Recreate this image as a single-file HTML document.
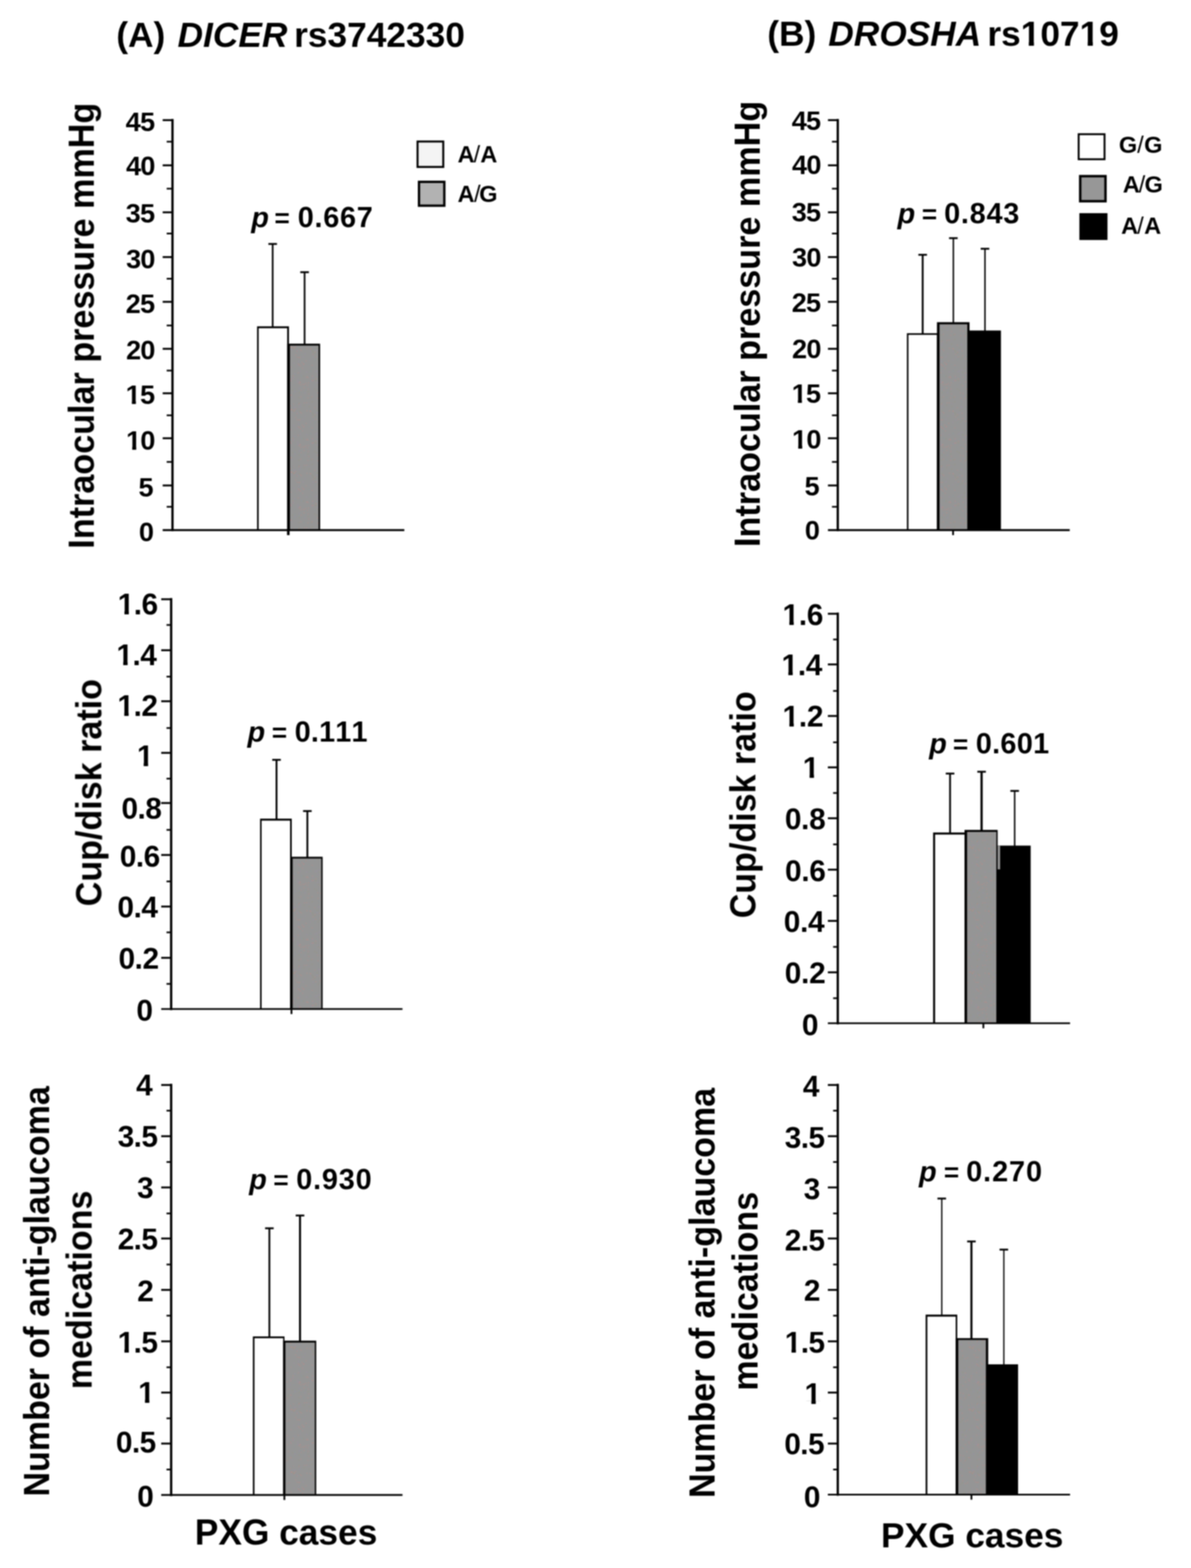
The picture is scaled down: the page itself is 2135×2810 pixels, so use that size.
<!DOCTYPE html>
<html lang="en">
<head>
<meta charset="utf-8">
<title>DICER rs3742330 and DROSHA rs10719 in PXG cases</title>
<style>
html,body{margin:0;padding:0;background:#fff;}
body{width:2135px;height:2810px;overflow:hidden;}
svg{display:block;}
text{white-space:pre;stroke:none;font-kerning:none;}
</style>
</head>
<body>
<svg xmlns="http://www.w3.org/2000/svg" width="2135" height="2810" viewBox="0 0 2135 2810" font-family="Liberation Sans, Arial, Helvetica, sans-serif" font-weight="bold" fill="#000">
<defs><filter id="soft" x="0" y="0" width="100%" height="100%" filterUnits="userSpaceOnUse" color-interpolation-filters="sRGB"><feGaussianBlur stdDeviation="0.8"/></filter><pattern id="dots" width="64" height="112" patternUnits="userSpaceOnUse"><rect width="64" height="112" fill="#959595"/><rect x="57.5" y="110.5" width="1.3" height="1.3" fill="#9c8cab"/><rect x="59.5" y="57.5" width="1.3" height="1.3" fill="#9c8cab"/><rect x="24" y="23.5" width="1.3" height="1.3" fill="#9c8cab"/><rect x="60.5" y="80.5" width="1.3" height="1.3" fill="#97977a"/><rect x="23.5" y="12" width="1.3" height="1.3" fill="#9c8cab"/><rect x="38.5" y="18" width="1.3" height="1.3" fill="#bd8a86"/><rect x="5" y="76" width="1.3" height="1.3" fill="#8a999d"/><rect x="57.5" y="83.5" width="1.3" height="1.3" fill="#97977a"/><rect x="20" y="79.5" width="1.3" height="1.3" fill="#bd8a86"/><rect x="8" y="7.5" width="1.3" height="1.3" fill="#bd8a86"/><rect x="24" y="30.5" width="1.3" height="1.3" fill="#97977a"/><rect x="3.5" y="99.5" width="1.3" height="1.3" fill="#9c8cab"/><rect x="41.5" y="56" width="1.3" height="1.3" fill="#97977a"/><rect x="25" y="66" width="1.3" height="1.3" fill="#8a999d"/><rect x="37.5" y="63.5" width="1.3" height="1.3" fill="#bd8a86"/><rect x="10.5" y="58.5" width="1.3" height="1.3" fill="#8a999d"/><rect x="52" y="70.5" width="1.3" height="1.3" fill="#bd8a86"/><rect x="32.5" y="40" width="1.3" height="1.3" fill="#8a999d"/><rect x="36.5" y="3.5" width="1.3" height="1.3" fill="#bd8a86"/><rect x="13.5" y="51" width="1.3" height="1.3" fill="#bd8a86"/><rect x="37" y="49" width="1.3" height="1.3" fill="#bd8a86"/><rect x="2" y="108" width="1.3" height="1.3" fill="#bd8a86"/><rect x="27" y="26.5" width="1.3" height="1.3" fill="#bd8a86"/><rect x="60" y="48" width="1.3" height="1.3" fill="#8a999d"/><rect x="53.5" y="9" width="1.3" height="1.3" fill="#97977a"/><rect x="25" y="99.5" width="1.3" height="1.3" fill="#8a999d"/><rect x="43" y="11" width="1.3" height="1.3" fill="#8a999d"/><rect x="42.5" y="1.5" width="1.3" height="1.3" fill="#8a999d"/><rect x="15" y="17" width="1.3" height="1.3" fill="#8a999d"/><rect x="12.5" y="1" width="1.3" height="1.3" fill="#bd8a86"/><rect x="59.5" y="102" width="1.3" height="1.3" fill="#9c8cab"/><rect x="22.5" y="87" width="1.3" height="1.3" fill="#9c8cab"/><rect x="24" y="57" width="1.3" height="1.3" fill="#9c8cab"/><rect x="24" y="93.5" width="1.3" height="1.3" fill="#bd8a86"/><rect x="53.5" y="82" width="1.3" height="1.3" fill="#8a999d"/><rect x="14.5" y="50.5" width="1.3" height="1.3" fill="#8a999d"/><rect x="27" y="0" width="1.3" height="1.3" fill="#8a999d"/><rect x="38.5" y="2.5" width="1.3" height="1.3" fill="#bd8a86"/><rect x="23.5" y="50" width="1.3" height="1.3" fill="#97977a"/><rect x="12.5" y="5" width="1.3" height="1.3" fill="#bd8a86"/><rect x="27" y="56.5" width="1.3" height="1.3" fill="#8a999d"/><rect x="1" y="98.5" width="1.3" height="1.3" fill="#97977a"/><rect x="42" y="106" width="1.3" height="1.3" fill="#8a999d"/><rect x="49" y="9" width="1.3" height="1.3" fill="#bd8a86"/><rect x="11.5" y="26.5" width="1.3" height="1.3" fill="#97977a"/><rect x="31" y="1.5" width="1.3" height="1.3" fill="#97977a"/><rect x="47" y="47.5" width="1.3" height="1.3" fill="#97977a"/><rect x="58" y="16" width="1.3" height="1.3" fill="#97977a"/><rect x="61.5" y="106.5" width="1.3" height="1.3" fill="#97977a"/><rect x="17" y="110.5" width="1.3" height="1.3" fill="#8a999d"/><rect x="23" y="80" width="1.3" height="1.3" fill="#bd8a86"/><rect x="39.5" y="29" width="1.3" height="1.3" fill="#97977a"/><rect x="31.5" y="92.5" width="1.3" height="1.3" fill="#bd8a86"/><rect x="20" y="94.5" width="1.3" height="1.3" fill="#9c8cab"/><rect x="25" y="87.5" width="1.3" height="1.3" fill="#8a999d"/><rect x="61.5" y="77" width="1.3" height="1.3" fill="#bd8a86"/><rect x="53.5" y="6" width="1.3" height="1.3" fill="#bd8a86"/><rect x="13.5" y="4.5" width="1.3" height="1.3" fill="#9c8cab"/><rect x="32.5" y="30.5" width="1.3" height="1.3" fill="#8a999d"/><rect x="32.5" y="53.5" width="1.3" height="1.3" fill="#97977a"/><rect x="62.5" y="37.5" width="1.3" height="1.3" fill="#9c8cab"/><rect x="22" y="92" width="1.3" height="1.3" fill="#bd8a86"/><rect x="16" y="29" width="1.3" height="1.3" fill="#9c8cab"/><rect x="9" y="35.5" width="1.3" height="1.3" fill="#bd8a86"/><rect x="26" y="95.5" width="1.3" height="1.3" fill="#bd8a86"/><rect x="8.5" y="34" width="1.3" height="1.3" fill="#8a999d"/><rect x="57" y="31.5" width="1.3" height="1.3" fill="#bd8a86"/><rect x="5.5" y="22.5" width="1.3" height="1.3" fill="#8a999d"/><rect x="47" y="67.5" width="1.3" height="1.3" fill="#97977a"/><rect x="16.5" y="11.5" width="1.3" height="1.3" fill="#8a999d"/><rect x="17.5" y="57.5" width="1.3" height="1.3" fill="#8a999d"/><rect x="17.5" y="75.5" width="1.3" height="1.3" fill="#bd8a86"/><rect x="2" y="60.5" width="1.3" height="1.3" fill="#8a999d"/><rect x="39.5" y="4" width="1.3" height="1.3" fill="#bd8a86"/><rect x="9.5" y="61.5" width="1.3" height="1.3" fill="#bd8a86"/><rect x="39.5" y="40.5" width="1.3" height="1.3" fill="#bd8a86"/><rect x="9" y="9.5" width="1.3" height="1.3" fill="#9c8cab"/><rect x="47" y="94" width="1.3" height="1.3" fill="#bd8a86"/><rect x="16.5" y="101.5" width="1.3" height="1.3" fill="#8a999d"/><rect x="45" y="10.5" width="1.3" height="1.3" fill="#9c8cab"/><rect x="9.5" y="111.5" width="1.3" height="1.3" fill="#8a999d"/><rect x="3.5" y="110.5" width="1.3" height="1.3" fill="#9c8cab"/><rect x="1.5" y="79.5" width="1.3" height="1.3" fill="#8a999d"/><rect x="48.5" y="74.5" width="1.3" height="1.3" fill="#bd8a86"/><rect x="9" y="10" width="1.3" height="1.3" fill="#bd8a86"/><rect x="14.5" y="32.5" width="1.3" height="1.3" fill="#8a999d"/><rect x="42" y="49.5" width="1.3" height="1.3" fill="#97977a"/><rect x="58.5" y="56" width="1.3" height="1.3" fill="#9c8cab"/><rect x="10.5" y="66" width="1.3" height="1.3" fill="#9c8cab"/><rect x="3.5" y="39.5" width="1.3" height="1.3" fill="#97977a"/><rect x="11" y="61.5" width="1.3" height="1.3" fill="#bd8a86"/><rect x="29" y="89" width="1.3" height="1.3" fill="#bd8a86"/><rect x="63.5" y="99.5" width="1.3" height="1.3" fill="#97977a"/><rect x="62" y="32.5" width="1.3" height="1.3" fill="#bd8a86"/><rect x="47" y="38.5" width="1.3" height="1.3" fill="#bd8a86"/><rect x="25.5" y="66" width="1.3" height="1.3" fill="#bd8a86"/><rect x="43.5" y="84" width="1.3" height="1.3" fill="#9c8cab"/><rect x="63.5" y="30.5" width="1.3" height="1.3" fill="#8a999d"/><rect x="51.5" y="85" width="1.3" height="1.3" fill="#8a999d"/><rect x="25" y="81" width="1.3" height="1.3" fill="#8a999d"/><rect x="25.5" y="27" width="1.3" height="1.3" fill="#8a999d"/><rect x="28" y="74.5" width="1.3" height="1.3" fill="#8a999d"/><rect x="26.5" y="17" width="1.3" height="1.3" fill="#bd8a86"/><rect x="63.5" y="44.5" width="1.3" height="1.3" fill="#bd8a86"/><rect x="8" y="35" width="1.3" height="1.3" fill="#bd8a86"/><rect x="14" y="57.5" width="1.3" height="1.3" fill="#9c8cab"/><rect x="35" y="27" width="1.3" height="1.3" fill="#8a999d"/><rect x="48.5" y="80" width="1.3" height="1.3" fill="#9c8cab"/><rect x="63" y="86" width="1.3" height="1.3" fill="#8a999d"/><rect x="57.5" y="41" width="1.3" height="1.3" fill="#bd8a86"/><rect x="4" y="35.5" width="1.3" height="1.3" fill="#97977a"/><rect x="5" y="86.5" width="1.3" height="1.3" fill="#8a999d"/><rect x="45" y="39.5" width="1.3" height="1.3" fill="#97977a"/><rect x="2" y="82" width="1.3" height="1.3" fill="#bd8a86"/><rect x="51.5" y="58" width="1.3" height="1.3" fill="#bd8a86"/><rect x="3" y="98" width="1.3" height="1.3" fill="#8a999d"/><rect x="30" y="99.5" width="1.3" height="1.3" fill="#bd8a86"/><rect x="6" y="80.5" width="1.3" height="1.3" fill="#bd8a86"/><rect x="57" y="13.5" width="1.3" height="1.3" fill="#9c8cab"/><rect x="47" y="9.5" width="1.3" height="1.3" fill="#bd8a86"/><rect x="25.5" y="105" width="1.3" height="1.3" fill="#9c8cab"/><rect x="32.5" y="22.5" width="1.3" height="1.3" fill="#bd8a86"/><rect x="60" y="68" width="1.3" height="1.3" fill="#bd8a86"/><rect x="22.5" y="28.5" width="1.3" height="1.3" fill="#8a999d"/><rect x="44" y="69" width="1.3" height="1.3" fill="#9c8cab"/><rect x="20" y="50" width="1.3" height="1.3" fill="#8a999d"/><rect x="11" y="52.5" width="1.3" height="1.3" fill="#8a999d"/><rect x="16.5" y="57.5" width="1.3" height="1.3" fill="#9c8cab"/><rect x="25" y="80" width="1.3" height="1.3" fill="#bd8a86"/><rect x="48" y="70" width="1.3" height="1.3" fill="#97977a"/><rect x="43.5" y="59" width="1.3" height="1.3" fill="#8a999d"/><rect x="26" y="12.5" width="1.3" height="1.3" fill="#bd8a86"/><rect x="27" y="31" width="1.3" height="1.3" fill="#8a999d"/><rect x="11" y="39.5" width="1.3" height="1.3" fill="#9c8cab"/><rect x="41" y="33.5" width="1.3" height="1.3" fill="#bd8a86"/><rect x="44.5" y="64.5" width="1.3" height="1.3" fill="#bd8a86"/><rect x="4.5" y="56" width="1.3" height="1.3" fill="#8a999d"/><rect x="53.5" y="98" width="1.3" height="1.3" fill="#8a999d"/><rect x="62" y="3.5" width="1.3" height="1.3" fill="#bd8a86"/><rect x="8" y="54.5" width="1.3" height="1.3" fill="#bd8a86"/><rect x="22" y="68" width="1.3" height="1.3" fill="#8a999d"/><rect x="17.5" y="60" width="1.3" height="1.3" fill="#bd8a86"/><rect x="56" y="63" width="1.3" height="1.3" fill="#97977a"/><rect x="11" y="97" width="1.3" height="1.3" fill="#8a999d"/><rect x="56" y="67" width="1.3" height="1.3" fill="#9c8cab"/><rect x="37" y="106" width="1.3" height="1.3" fill="#9c8cab"/><rect x="21" y="66.5" width="1.3" height="1.3" fill="#9c8cab"/><rect x="32.5" y="39.5" width="1.3" height="1.3" fill="#8a999d"/><rect x="26.5" y="38.5" width="1.3" height="1.3" fill="#bd8a86"/><rect x="34.5" y="73" width="1.3" height="1.3" fill="#9c8cab"/><rect x="25.5" y="52.5" width="1.3" height="1.3" fill="#9c8cab"/><rect x="14.5" y="64" width="1.3" height="1.3" fill="#bd8a86"/><rect x="48" y="3.5" width="1.3" height="1.3" fill="#9c8cab"/><rect x="5.5" y="66" width="1.3" height="1.3" fill="#8a999d"/><rect x="15.5" y="62.5" width="1.3" height="1.3" fill="#bd8a86"/><rect x="21" y="8" width="1.3" height="1.3" fill="#9c8cab"/><rect x="58.5" y="52.5" width="1.3" height="1.3" fill="#8a999d"/><rect x="34" y="31.5" width="1.3" height="1.3" fill="#9c8cab"/><rect x="63" y="16" width="1.3" height="1.3" fill="#8a999d"/><rect x="55.5" y="104" width="1.3" height="1.3" fill="#9c8cab"/><rect x="40.5" y="13.5" width="1.3" height="1.3" fill="#bd8a86"/><rect x="53.5" y="79" width="1.3" height="1.3" fill="#bd8a86"/><rect x="33" y="16.5" width="1.3" height="1.3" fill="#bd8a86"/><rect x="4.5" y="24.5" width="1.3" height="1.3" fill="#bd8a86"/><rect x="29" y="1.5" width="1.3" height="1.3" fill="#8a999d"/><rect x="41" y="92.5" width="1.3" height="1.3" fill="#8a999d"/><rect x="31" y="79" width="1.3" height="1.3" fill="#9c8cab"/><rect x="13" y="63.5" width="1.3" height="1.3" fill="#97977a"/><rect x="15.5" y="109" width="1.3" height="1.3" fill="#9c8cab"/><rect x="32" y="91.5" width="1.3" height="1.3" fill="#bd8a86"/><rect x="55.5" y="2.5" width="1.3" height="1.3" fill="#8a999d"/><rect x="52.5" y="105.5" width="1.3" height="1.3" fill="#9c8cab"/><rect x="20" y="68.5" width="1.3" height="1.3" fill="#bd8a86"/><rect x="27.5" y="67.5" width="1.3" height="1.3" fill="#bd8a86"/><rect x="17" y="29.5" width="1.3" height="1.3" fill="#8a999d"/><rect x="23" y="40" width="1.3" height="1.3" fill="#97977a"/><rect x="40" y="24.5" width="1.3" height="1.3" fill="#bd8a86"/><rect x="24.5" y="12" width="1.3" height="1.3" fill="#bd8a86"/><rect x="30.5" y="16.5" width="1.3" height="1.3" fill="#bd8a86"/><rect x="33" y="49.5" width="1.3" height="1.3" fill="#bd8a86"/><rect x="55.5" y="106.5" width="1.3" height="1.3" fill="#8a999d"/><rect x="16" y="25.5" width="1.3" height="1.3" fill="#8a999d"/><rect x="2" y="12" width="1.3" height="1.3" fill="#bd8a86"/><rect x="45.5" y="105" width="1.3" height="1.3" fill="#8a999d"/><rect x="14.5" y="90" width="1.3" height="1.3" fill="#9c8cab"/><rect x="43.5" y="64" width="1.3" height="1.3" fill="#bd8a86"/><rect x="9" y="61.5" width="1.3" height="1.3" fill="#bd8a86"/><rect x="3" y="4.5" width="1.3" height="1.3" fill="#9c8cab"/><rect x="61.5" y="18.5" width="1.3" height="1.3" fill="#bd8a86"/><rect x="23.5" y="14.5" width="1.3" height="1.3" fill="#bd8a86"/><rect x="22" y="107.5" width="1.3" height="1.3" fill="#bd8a86"/><rect x="36" y="86" width="1.3" height="1.3" fill="#bd8a86"/><rect x="7.5" y="17" width="1.3" height="1.3" fill="#9c8cab"/><rect x="9.5" y="97.5" width="1.3" height="1.3" fill="#bd8a86"/><rect x="41.5" y="50" width="1.3" height="1.3" fill="#9c8cab"/><rect x="54.5" y="65.5" width="1.3" height="1.3" fill="#8a999d"/><rect x="55" y="26.5" width="1.3" height="1.3" fill="#97977a"/><rect x="47.5" y="1.5" width="1.3" height="1.3" fill="#bd8a86"/><rect x="25.5" y="23" width="1.3" height="1.3" fill="#8a999d"/><rect x="58" y="46" width="1.3" height="1.3" fill="#8a999d"/><rect x="51.5" y="24.5" width="1.3" height="1.3" fill="#97977a"/><rect x="21" y="12" width="1.3" height="1.3" fill="#9c8cab"/><rect x="1.5" y="41" width="1.3" height="1.3" fill="#bd8a86"/><rect x="51.5" y="72.5" width="1.3" height="1.3" fill="#97977a"/><rect x="24" y="64.5" width="1.3" height="1.3" fill="#97977a"/><rect x="43.5" y="103" width="1.3" height="1.3" fill="#8a999d"/><rect x="35.5" y="14.5" width="1.3" height="1.3" fill="#bd8a86"/><rect x="51.5" y="17" width="1.3" height="1.3" fill="#8a999d"/><rect x="47" y="98" width="1.3" height="1.3" fill="#8a999d"/><rect x="23" y="51.5" width="1.3" height="1.3" fill="#bd8a86"/></pattern></defs>
<rect width="2135" height="2810" fill="#fff"/>
<g filter="url(#soft)">
<text x="208.54" y="84.4" font-size="63.29">(A)</text>
<text x="318.29" y="84.4" font-size="63.29" font-style="italic">DICER</text>
<text x="527.19" y="84.4" font-size="63.29">rs3742330</text>
<text x="1375.44" y="81.7" font-size="63.29">(B)</text>
<text x="1484.79" y="81.7" font-size="63.29" font-style="italic">DROSHA</text>
<text x="1769.89" y="81.7" font-size="63.29">rs10719</text>
<path d="M1832.25 74.39H1844.21V82.7H1832.25ZM1853.45 74.39H1864.4V82.7H1853.45Z" fill="#fff"/>
<path d="M1937.85 74.39H1949.82V82.7H1937.85ZM1959.05 74.39H1970V82.7H1959.05Z" fill="#fff"/>
<g id="A1" stroke="#000">
<rect x="460.8" y="584.8" width="57.2" height="365.2" fill="#000" stroke="none"/>
<rect x="463.7" y="588.2" width="51.1" height="361.8" fill="#fff" stroke="none"/>
<rect x="514.8" y="615.9" width="59" height="334.1" fill="#000" stroke="none"/>
<rect x="519.8" y="619.3" width="51.2" height="330.7" fill="url(#dots)" stroke="none"/>
<line x1="488.8" y1="437.2" x2="488.8" y2="585.8" stroke-width="3"/>
<line x1="481.1" y1="437.2" x2="496.5" y2="437.2" stroke-width="3.3"/>
<line x1="546" y1="487.8" x2="546" y2="616.9" stroke-width="3"/>
<line x1="538.3" y1="487.8" x2="553.7" y2="487.8" stroke-width="3.3"/>
<line x1="309.2" y1="213.25" x2="309.2" y2="952.05" stroke-width="4.1"/>
<line x1="291.6" y1="950" x2="724.8" y2="950" stroke-width="3.4"/>
<line x1="291.6" y1="215.3" x2="309.2" y2="215.3" stroke-width="3.4"/>
<line x1="291.6" y1="296.3" x2="309.2" y2="296.3" stroke-width="3.4"/>
<line x1="291.6" y1="380.5" x2="309.2" y2="380.5" stroke-width="3.4"/>
<line x1="291.6" y1="460.7" x2="309.2" y2="460.7" stroke-width="3.4"/>
<line x1="291.6" y1="540.9" x2="309.2" y2="540.9" stroke-width="3.4"/>
<line x1="291.6" y1="625.1" x2="309.2" y2="625.1" stroke-width="3.4"/>
<line x1="291.6" y1="704.8" x2="309.2" y2="704.8" stroke-width="3.4"/>
<line x1="291.6" y1="785.4" x2="309.2" y2="785.4" stroke-width="3.4"/>
<line x1="291.6" y1="870" x2="309.2" y2="870" stroke-width="3.4"/>
<line x1="298.8" y1="253.9" x2="309.2" y2="253.9" stroke-width="3"/>
<line x1="298.8" y1="338.1" x2="309.2" y2="338.1" stroke-width="3"/>
<line x1="298.8" y1="418.5" x2="309.2" y2="418.5" stroke-width="3"/>
<line x1="298.8" y1="499.5" x2="309.2" y2="499.5" stroke-width="3"/>
<line x1="298.8" y1="583.3" x2="309.2" y2="583.3" stroke-width="3"/>
<line x1="298.8" y1="664.1" x2="309.2" y2="664.1" stroke-width="3"/>
<line x1="298.8" y1="744.3" x2="309.2" y2="744.3" stroke-width="3"/>
<line x1="298.8" y1="827.8" x2="309.2" y2="827.8" stroke-width="3"/>
<line x1="298.8" y1="908.2" x2="309.2" y2="908.2" stroke-width="3"/>
<line x1="516.8" y1="950" x2="516.8" y2="959" stroke-width="4.6"/>
</g>
<text x="225.33" y="235" font-size="48.6" letter-spacing="-1.4">45</text>
<text x="225.94" y="314.1" font-size="48.6" letter-spacing="-1.4">40</text>
<text x="225.33" y="398.9" font-size="48.6" letter-spacing="-1.4">35</text>
<text x="225.94" y="480.6" font-size="48.6" letter-spacing="-1.4">30</text>
<text x="225.33" y="561" font-size="48.6" letter-spacing="-1.4">25</text>
<text x="225.94" y="643.9" font-size="48.6" letter-spacing="-1.4">20</text>
<text x="225.33" y="724.1" font-size="48.6" letter-spacing="-1.4">15</text>
<path d="M227.28 718.35H236.41V725.1H227.28ZM243.61 718.35H251.97V725.1H243.61Z" fill="#fff"/>
<text x="225.94" y="806.4" font-size="48.6" letter-spacing="-1.4">10</text>
<path d="M227.89 800.65H237.01V807.4H227.89ZM244.22 800.65H252.57V807.4H244.22Z" fill="#fff"/>
<text x="248.36" y="889.9" font-size="48.6">5</text>
<text x="248.97" y="969.7" font-size="48.6">0</text>
<text x="450.46" y="406.6" font-size="51.7" font-style="italic">p</text>
<text x="492" y="406.6" font-size="47">=</text>
<text x="533.83" y="406.6" font-size="51.7" letter-spacing="1.26">0.667</text>
<text transform="translate(168.2 979.2) rotate(-90)" x="-4.13" y="0" font-size="64.3" textLength="799.26" lengthAdjust="spacingAndGlyphs">Intraocular pressure mmHg</text>
<g id="B1" stroke="#000">
<rect x="1625.7" y="597.2" width="56.3" height="352.8" fill="#000" stroke="none"/>
<rect x="1628.5" y="600.1" width="51.1" height="349.9" fill="#fff" stroke="none"/>
<rect x="1679.6" y="577.4" width="58.4" height="372.6" fill="#000" stroke="none"/>
<rect x="1684.2" y="581.2" width="49.8" height="368.8" fill="url(#dots)" stroke="none"/>
<rect x="1736" y="592.3" width="58.3" height="357.7" fill="#000" stroke="none"/>
<line x1="1654" y1="456.6" x2="1654" y2="598.2" stroke-width="3.3"/>
<line x1="1646.3" y1="456.6" x2="1661.7" y2="456.6" stroke-width="3.3"/>
<line x1="1709" y1="426.8" x2="1709" y2="578.4" stroke-width="2.6"/>
<line x1="1701.3" y1="426.8" x2="1716.7" y2="426.8" stroke-width="3.3"/>
<line x1="1765.7" y1="445.8" x2="1765.7" y2="593.3" stroke-width="2.6"/>
<line x1="1758" y1="445.8" x2="1773.4" y2="445.8" stroke-width="3.3"/>
<line x1="1501.8" y1="213.25" x2="1501.8" y2="952.05" stroke-width="4.1"/>
<line x1="1484.2" y1="950" x2="1917.6" y2="950" stroke-width="3.4"/>
<line x1="1484.2" y1="215.3" x2="1501.8" y2="215.3" stroke-width="3.4"/>
<line x1="1484.2" y1="296.3" x2="1501.8" y2="296.3" stroke-width="3.4"/>
<line x1="1484.2" y1="380.5" x2="1501.8" y2="380.5" stroke-width="3.4"/>
<line x1="1484.2" y1="460.7" x2="1501.8" y2="460.7" stroke-width="3.4"/>
<line x1="1484.2" y1="540.9" x2="1501.8" y2="540.9" stroke-width="3.4"/>
<line x1="1484.2" y1="625.1" x2="1501.8" y2="625.1" stroke-width="3.4"/>
<line x1="1484.2" y1="704.8" x2="1501.8" y2="704.8" stroke-width="3.4"/>
<line x1="1484.2" y1="785.4" x2="1501.8" y2="785.4" stroke-width="3.4"/>
<line x1="1484.2" y1="870" x2="1501.8" y2="870" stroke-width="3.4"/>
<line x1="1491.4" y1="253.9" x2="1501.8" y2="253.9" stroke-width="3"/>
<line x1="1491.4" y1="338.1" x2="1501.8" y2="338.1" stroke-width="3"/>
<line x1="1491.4" y1="418.5" x2="1501.8" y2="418.5" stroke-width="3"/>
<line x1="1491.4" y1="499.5" x2="1501.8" y2="499.5" stroke-width="3"/>
<line x1="1491.4" y1="583.3" x2="1501.8" y2="583.3" stroke-width="3"/>
<line x1="1491.4" y1="664.1" x2="1501.8" y2="664.1" stroke-width="3"/>
<line x1="1491.4" y1="744.3" x2="1501.8" y2="744.3" stroke-width="3"/>
<line x1="1491.4" y1="827.8" x2="1501.8" y2="827.8" stroke-width="3"/>
<line x1="1491.4" y1="908.2" x2="1501.8" y2="908.2" stroke-width="3"/>
<line x1="1708.5" y1="950" x2="1708.5" y2="959" stroke-width="3.2"/>
</g>
<text x="1419.23" y="232.7" font-size="48.6" letter-spacing="-1.4">45</text>
<text x="1419.84" y="311.8" font-size="48.6" letter-spacing="-1.4">40</text>
<text x="1419.23" y="396.6" font-size="48.6" letter-spacing="-1.4">35</text>
<text x="1419.84" y="478.3" font-size="48.6" letter-spacing="-1.4">30</text>
<text x="1419.23" y="558.7" font-size="48.6" letter-spacing="-1.4">25</text>
<text x="1419.84" y="641.6" font-size="48.6" letter-spacing="-1.4">20</text>
<text x="1419.23" y="721.8" font-size="48.6" letter-spacing="-1.4">15</text>
<path d="M1421.18 716.05H1430.31V722.8H1421.18ZM1437.51 716.05H1445.87V722.8H1437.51Z" fill="#fff"/>
<text x="1419.84" y="804.1" font-size="48.6" letter-spacing="-1.4">10</text>
<path d="M1421.79 798.35H1430.91V805.1H1421.79ZM1438.12 798.35H1446.47V805.1H1438.12Z" fill="#fff"/>
<text x="1442.26" y="887.6" font-size="48.6">5</text>
<text x="1442.87" y="967.4" font-size="48.6">0</text>
<text x="1608.96" y="399.8" font-size="51.7" font-style="italic">p</text>
<text x="1652.5" y="399.8" font-size="47">=</text>
<text x="1692.43" y="399.8" font-size="51.7" letter-spacing="1.39">0.843</text>
<text transform="translate(1361.5 976.1) rotate(-90)" x="-4.13" y="0" font-size="64.3" textLength="799.56" lengthAdjust="spacingAndGlyphs">Intraocular pressure mmHg</text>
<g id="A2" stroke="#000">
<rect x="466.2" y="1467.1" width="56.8" height="341.2" fill="#000" stroke="none"/>
<rect x="469" y="1470.6" width="51" height="337.7" fill="#fff" stroke="none"/>
<rect x="520" y="1535.4" width="58.4" height="272.9" fill="#000" stroke="none"/>
<rect x="524.6" y="1538.6" width="51.2" height="269.7" fill="url(#dots)" stroke="none"/>
<line x1="495.7" y1="1361.7" x2="495.7" y2="1468.1" stroke-width="3.3"/>
<line x1="488" y1="1361.7" x2="503.4" y2="1361.7" stroke-width="3.3"/>
<line x1="551" y1="1453.5" x2="551" y2="1536.4" stroke-width="3.3"/>
<line x1="543.3" y1="1453.5" x2="558.7" y2="1453.5" stroke-width="3.3"/>
<line x1="306.8" y1="1071.85" x2="306.8" y2="1810.35" stroke-width="4.1"/>
<line x1="289" y1="1808.3" x2="721.5" y2="1808.3" stroke-width="3"/>
<line x1="289" y1="1073.9" x2="306.8" y2="1073.9" stroke-width="3.4"/>
<line x1="289" y1="1165.3" x2="306.8" y2="1165.3" stroke-width="3.4"/>
<line x1="289" y1="1256.7" x2="306.8" y2="1256.7" stroke-width="3.4"/>
<line x1="289" y1="1349.2" x2="306.8" y2="1349.2" stroke-width="3.4"/>
<line x1="289" y1="1439.1" x2="306.8" y2="1439.1" stroke-width="3.4"/>
<line x1="289" y1="1532.2" x2="306.8" y2="1532.2" stroke-width="3.4"/>
<line x1="289" y1="1624.6" x2="306.8" y2="1624.6" stroke-width="3.4"/>
<line x1="289" y1="1716.5" x2="306.8" y2="1716.5" stroke-width="3.4"/>
<line x1="298.5" y1="1120" x2="306.8" y2="1120" stroke-width="3"/>
<line x1="298.5" y1="1212.6" x2="306.8" y2="1212.6" stroke-width="3"/>
<line x1="298.5" y1="1304.7" x2="306.8" y2="1304.7" stroke-width="3"/>
<line x1="298.5" y1="1395.4" x2="306.8" y2="1395.4" stroke-width="3"/>
<line x1="298.5" y1="1487.2" x2="306.8" y2="1487.2" stroke-width="3"/>
<line x1="298.5" y1="1579.6" x2="306.8" y2="1579.6" stroke-width="3"/>
<line x1="298.5" y1="1670.9" x2="306.8" y2="1670.9" stroke-width="3"/>
<line x1="298.5" y1="1763.2" x2="306.8" y2="1763.2" stroke-width="3"/>
<line x1="522.5" y1="1808.3" x2="522.5" y2="1817.3" stroke-width="3.2"/>
</g>
<text x="210.9" y="1100.8" font-size="53.4" letter-spacing="-0.8">1.6</text>
<path d="M213.03 1094.54H223.09V1101.8H213.03ZM230.96 1094.54H240.16V1101.8H230.96Z" fill="#fff"/>
<text x="208.69" y="1191.8" font-size="53.4" letter-spacing="-0.8">1.4</text>
<path d="M210.83 1185.54H220.89V1192.8H210.83ZM228.75 1185.54H237.96V1192.8H228.75Z" fill="#fff"/>
<text x="210.56" y="1283" font-size="53.4" letter-spacing="-0.8">1.2</text>
<path d="M212.7 1276.74H222.75V1284H212.7ZM230.62 1276.74H239.83V1284H230.62Z" fill="#fff"/>
<text x="245.39" y="1373.2" font-size="53.4">1</text>
<path d="M247.52 1366.94H257.58V1374.2H247.52ZM265.45 1366.94H274.65V1374.2H265.45Z" fill="#fff"/>
<text x="217.63" y="1467" font-size="53.4" letter-spacing="-0.8">0.8</text>
<text x="214.7" y="1552.5" font-size="53.4" letter-spacing="-0.8">0.6</text>
<text x="210.59" y="1644" font-size="53.4" letter-spacing="-0.8">0.4</text>
<text x="212.46" y="1736.4" font-size="53.4" letter-spacing="-0.8">0.2</text>
<text x="244.6" y="1828.8" font-size="53.4">0</text>
<text x="443.76" y="1329.3" font-size="51.7" font-style="italic">p</text>
<text x="487.3" y="1329.3" font-size="47">=</text>
<text x="528.13" y="1329.3" font-size="51.7" letter-spacing="0.34">0.111</text>
<text transform="translate(181.5 1621.7) rotate(-90)" x="-2.44" y="0" font-size="64.3" textLength="407.19" lengthAdjust="spacingAndGlyphs">Cup/disk ratio</text>
<g id="B2" stroke="#000">
<rect x="1672.7" y="1491.9" width="59.3" height="341.9" fill="#000" stroke="none"/>
<rect x="1676.3" y="1495.6" width="52.7" height="338.2" fill="#fff" stroke="none"/>
<rect x="1729" y="1487.3" width="59.4" height="346.5" fill="#000" stroke="none"/>
<rect x="1733.6" y="1490.9" width="52.4" height="342.9" fill="url(#dots)" stroke="none"/>
<rect x="1787.4" y="1515.4" width="60.2" height="318.4" fill="#000" stroke="none"/>
<line x1="1703.1" y1="1386.3" x2="1703.1" y2="1492.9" stroke-width="3.2"/>
<line x1="1695.4" y1="1386.3" x2="1710.8" y2="1386.3" stroke-width="3.3"/>
<line x1="1759.6" y1="1383" x2="1759.6" y2="1488.3" stroke-width="4"/>
<line x1="1751.9" y1="1383" x2="1767.3" y2="1383" stroke-width="3.3"/>
<line x1="1818.9" y1="1417.4" x2="1818.9" y2="1516.4" stroke-width="2.6"/>
<line x1="1811.2" y1="1417.4" x2="1826.6" y2="1417.4" stroke-width="3.3"/>
<rect x="1788.4" y="1515.4" width="4.4" height="42.6" fill="#969696" stroke="none"/>
<line x1="1501.8" y1="1097.85" x2="1501.8" y2="1835.85" stroke-width="4.1"/>
<line x1="1484" y1="1833.8" x2="1918.2" y2="1833.8" stroke-width="3"/>
<line x1="1484" y1="1099.9" x2="1501.8" y2="1099.9" stroke-width="3.4"/>
<line x1="1484" y1="1190.7" x2="1501.8" y2="1190.7" stroke-width="3.4"/>
<line x1="1484" y1="1283.1" x2="1501.8" y2="1283.1" stroke-width="3.4"/>
<line x1="1484" y1="1375.2" x2="1501.8" y2="1375.2" stroke-width="3.4"/>
<line x1="1484" y1="1466.4" x2="1501.8" y2="1466.4" stroke-width="3.4"/>
<line x1="1484" y1="1558.5" x2="1501.8" y2="1558.5" stroke-width="3.4"/>
<line x1="1484" y1="1650.3" x2="1501.8" y2="1650.3" stroke-width="3.4"/>
<line x1="1484" y1="1742.5" x2="1501.8" y2="1742.5" stroke-width="3.4"/>
<line x1="1493.5" y1="1146" x2="1501.8" y2="1146" stroke-width="3"/>
<line x1="1493.5" y1="1238.2" x2="1501.8" y2="1238.2" stroke-width="3"/>
<line x1="1493.5" y1="1330.3" x2="1501.8" y2="1330.3" stroke-width="3"/>
<line x1="1493.5" y1="1421.1" x2="1501.8" y2="1421.1" stroke-width="3"/>
<line x1="1493.5" y1="1513.2" x2="1501.8" y2="1513.2" stroke-width="3"/>
<line x1="1493.5" y1="1605.4" x2="1501.8" y2="1605.4" stroke-width="3"/>
<line x1="1493.5" y1="1696.9" x2="1501.8" y2="1696.9" stroke-width="3"/>
<line x1="1493.5" y1="1788.9" x2="1501.8" y2="1788.9" stroke-width="3"/>
<line x1="1762.8" y1="1833.8" x2="1762.8" y2="1842.8" stroke-width="3.2"/>
</g>
<text x="1402.8" y="1119.9" font-size="53.4" letter-spacing="-0.5">1.6</text>
<path d="M1404.93 1113.64H1414.99V1120.9H1404.93ZM1422.86 1113.64H1432.06V1120.9H1422.86Z" fill="#fff"/>
<text x="1400.99" y="1209.6" font-size="53.4" letter-spacing="-0.5">1.4</text>
<path d="M1403.13 1203.34H1413.19V1210.6H1403.13ZM1421.05 1203.34H1430.26V1210.6H1421.05Z" fill="#fff"/>
<text x="1402.86" y="1301.8" font-size="53.4" letter-spacing="-0.5">1.2</text>
<path d="M1405 1295.54H1415.05V1302.8H1405ZM1422.92 1295.54H1432.13V1302.8H1422.92Z" fill="#fff"/>
<text x="1439.09" y="1394.2" font-size="53.4">1</text>
<path d="M1441.22 1387.94H1451.28V1395.2H1441.22ZM1459.15 1387.94H1468.35V1395.2H1459.15Z" fill="#fff"/>
<text x="1406.93" y="1486.1" font-size="53.4" letter-spacing="-0.5">0.8</text>
<text x="1407.2" y="1578.5" font-size="53.4" letter-spacing="-0.5">0.6</text>
<text x="1404.99" y="1670" font-size="53.4" letter-spacing="-0.5">0.4</text>
<text x="1406.86" y="1762.4" font-size="53.4" letter-spacing="-0.5">0.2</text>
<text x="1437.5" y="1854.8" font-size="53.4">0</text>
<text x="1665.66" y="1350.2" font-size="51.7" font-style="italic">p</text>
<text x="1708.2" y="1350.2" font-size="47">=</text>
<text x="1749.13" y="1350.2" font-size="51.7" letter-spacing="0.57">0.601</text>
<text transform="translate(1354.1 1643.1) rotate(-90)" x="-2.44" y="0" font-size="64.3" textLength="406.68" lengthAdjust="spacingAndGlyphs">Cup/disk ratio</text>
<g id="A3" stroke="#000">
<rect x="453.3" y="2395" width="56.7" height="284.1" fill="#000" stroke="none"/>
<rect x="456.2" y="2398.2" width="51.4" height="280.9" fill="#fff" stroke="none"/>
<rect x="507.6" y="2402.6" width="59.3" height="276.5" fill="#000" stroke="none"/>
<rect x="511.6" y="2406" width="52.7" height="273.1" fill="url(#dots)" stroke="none"/>
<line x1="482.9" y1="2201.2" x2="482.9" y2="2396" stroke-width="3.2"/>
<line x1="475.2" y1="2201.2" x2="490.6" y2="2201.2" stroke-width="3.3"/>
<line x1="537.8" y1="2178.3" x2="537.8" y2="2403.6" stroke-width="3.6"/>
<line x1="530.1" y1="2178.3" x2="545.5" y2="2178.3" stroke-width="3.3"/>
<line x1="306.8" y1="1942.35" x2="306.8" y2="2681.15" stroke-width="4.1"/>
<line x1="289" y1="2679.1" x2="721.5" y2="2679.1" stroke-width="3.2"/>
<line x1="289" y1="1944.4" x2="306.8" y2="1944.4" stroke-width="3.4"/>
<line x1="289" y1="2036.2" x2="306.8" y2="2036.2" stroke-width="3.4"/>
<line x1="289" y1="2128" x2="306.8" y2="2128" stroke-width="3.4"/>
<line x1="289" y1="2219.5" x2="306.8" y2="2219.5" stroke-width="3.4"/>
<line x1="289" y1="2311.6" x2="306.8" y2="2311.6" stroke-width="3.4"/>
<line x1="289" y1="2403.8" x2="306.8" y2="2403.8" stroke-width="3.4"/>
<line x1="289" y1="2495.6" x2="306.8" y2="2495.6" stroke-width="3.4"/>
<line x1="289" y1="2587" x2="306.8" y2="2587" stroke-width="3.4"/>
<line x1="298.5" y1="1990.4" x2="306.8" y2="1990.4" stroke-width="3"/>
<line x1="298.5" y1="2082.4" x2="306.8" y2="2082.4" stroke-width="3"/>
<line x1="298.5" y1="2174.6" x2="306.8" y2="2174.6" stroke-width="3"/>
<line x1="298.5" y1="2266.1" x2="306.8" y2="2266.1" stroke-width="3"/>
<line x1="298.5" y1="2357.8" x2="306.8" y2="2357.8" stroke-width="3"/>
<line x1="298.5" y1="2450.3" x2="306.8" y2="2450.3" stroke-width="3"/>
<line x1="298.5" y1="2541.8" x2="306.8" y2="2541.8" stroke-width="3"/>
<line x1="298.5" y1="2633.5" x2="306.8" y2="2633.5" stroke-width="3"/>
<line x1="509.8" y1="2679.1" x2="509.8" y2="2688.1" stroke-width="3.2"/>
</g>
<text x="244.03" y="1962.5" font-size="53.4">4</text>
<text x="210.89" y="2055" font-size="53.4" letter-spacing="-1">3.5</text>
<text x="245.63" y="2146.8" font-size="53.4">3</text>
<text x="210.89" y="2239.3" font-size="53.4" letter-spacing="-1">2.5</text>
<text x="245.9" y="2331.8" font-size="53.4">2</text>
<text x="210.89" y="2423.7" font-size="53.4" letter-spacing="-1">1.5</text>
<path d="M213.03 2417.44H223.09V2424.7H213.03ZM230.96 2417.44H240.16V2424.7H230.96Z" fill="#fff"/>
<text x="247.69" y="2513.9" font-size="53.4">1</text>
<path d="M249.82 2507.64H259.88V2514.9H249.82ZM267.75 2507.64H276.95V2514.9H267.75Z" fill="#fff"/>
<text x="207.79" y="2603.2" font-size="53.4" letter-spacing="-1">0.5</text>
<text x="245.9" y="2700.1" font-size="53.4">0</text>
<text x="446.66" y="2131.2" font-size="51.7" font-style="italic">p</text>
<text x="490.1" y="2131.2" font-size="47">=</text>
<text x="531.03" y="2131.2" font-size="51.7" letter-spacing="1.45">0.930</text>
<text transform="translate(88 2677.9) rotate(-90)" x="-4.12" y="0" font-size="64.3" textLength="735.43" lengthAdjust="spacingAndGlyphs">Number of anti-glaucoma</text>
<text transform="translate(164.3 2485.6) rotate(-90)" x="-3.97" y="0" font-size="64.3" textLength="355.98" lengthAdjust="spacingAndGlyphs">medications</text>
<text x="349.33" y="2767.9" font-size="65" textLength="326.97" lengthAdjust="spacingAndGlyphs">PXG cases</text>
<g id="B3" stroke="#000">
<rect x="1659.3" y="2355.9" width="56.7" height="322.6" fill="#000" stroke="none"/>
<rect x="1662.4" y="2359.5" width="50.8" height="319" fill="#fff" stroke="none"/>
<rect x="1713.2" y="2398.1" width="58.3" height="280.4" fill="#000" stroke="none"/>
<rect x="1717.8" y="2401.4" width="49.5" height="277.1" fill="url(#dots)" stroke="none"/>
<rect x="1770" y="2445" width="55" height="233.5" fill="#000" stroke="none"/>
<line x1="1688.2" y1="2147.9" x2="1688.2" y2="2356.9" stroke-width="2.3"/>
<line x1="1680.5" y1="2147.9" x2="1695.9" y2="2147.9" stroke-width="3.3"/>
<line x1="1741.4" y1="2224.8" x2="1741.4" y2="2399.1" stroke-width="3.7"/>
<line x1="1733.7" y1="2224.8" x2="1749.1" y2="2224.8" stroke-width="3.3"/>
<line x1="1799.5" y1="2239.4" x2="1799.5" y2="2446" stroke-width="2.3"/>
<line x1="1791.8" y1="2239.4" x2="1807.2" y2="2239.4" stroke-width="3.3"/>
<line x1="1501.8" y1="1942.35" x2="1501.8" y2="2680.55" stroke-width="4.1"/>
<line x1="1484" y1="2678.5" x2="1918.2" y2="2678.5" stroke-width="3.2"/>
<line x1="1484" y1="1944.4" x2="1501.8" y2="1944.4" stroke-width="3.4"/>
<line x1="1484" y1="2036.2" x2="1501.8" y2="2036.2" stroke-width="3.4"/>
<line x1="1484" y1="2128" x2="1501.8" y2="2128" stroke-width="3.4"/>
<line x1="1484" y1="2219.5" x2="1501.8" y2="2219.5" stroke-width="3.4"/>
<line x1="1484" y1="2311.6" x2="1501.8" y2="2311.6" stroke-width="3.4"/>
<line x1="1484" y1="2403.8" x2="1501.8" y2="2403.8" stroke-width="3.4"/>
<line x1="1484" y1="2495.6" x2="1501.8" y2="2495.6" stroke-width="3.4"/>
<line x1="1484" y1="2587" x2="1501.8" y2="2587" stroke-width="3.4"/>
<line x1="1493.5" y1="1990.4" x2="1501.8" y2="1990.4" stroke-width="3"/>
<line x1="1493.5" y1="2082.4" x2="1501.8" y2="2082.4" stroke-width="3"/>
<line x1="1493.5" y1="2174.6" x2="1501.8" y2="2174.6" stroke-width="3"/>
<line x1="1493.5" y1="2266.1" x2="1501.8" y2="2266.1" stroke-width="3"/>
<line x1="1493.5" y1="2357.8" x2="1501.8" y2="2357.8" stroke-width="3"/>
<line x1="1493.5" y1="2450.3" x2="1501.8" y2="2450.3" stroke-width="3"/>
<line x1="1493.5" y1="2541.8" x2="1501.8" y2="2541.8" stroke-width="3"/>
<line x1="1493.5" y1="2633.5" x2="1501.8" y2="2633.5" stroke-width="3"/>
<line x1="1741.4" y1="2678.5" x2="1741.4" y2="2687.5" stroke-width="3.2"/>
</g>
<text x="1439.13" y="1964.5" font-size="53.4">4</text>
<text x="1406.69" y="2056.8" font-size="53.4" letter-spacing="-1">3.5</text>
<text x="1440.73" y="2149.4" font-size="53.4">3</text>
<text x="1406.69" y="2241.3" font-size="53.4" letter-spacing="-1">2.5</text>
<text x="1441" y="2331.4" font-size="53.4">2</text>
<text x="1406.69" y="2423.7" font-size="53.4" letter-spacing="-1">1.5</text>
<path d="M1408.83 2417.44H1418.89V2424.7H1408.83ZM1426.76 2417.44H1435.96V2424.7H1426.76Z" fill="#fff"/>
<text x="1442.29" y="2516.4" font-size="53.4">1</text>
<path d="M1444.42 2510.14H1454.48V2517.4H1444.42ZM1462.35 2510.14H1471.55V2517.4H1462.35Z" fill="#fff"/>
<text x="1405.89" y="2605.8" font-size="53.4" letter-spacing="-1">0.5</text>
<text x="1440.9" y="2701.3" font-size="53.4">0</text>
<text x="1647.56" y="2117.1" font-size="51.7" font-style="italic">p</text>
<text x="1692" y="2117.1" font-size="47">=</text>
<text x="1731.93" y="2117.1" font-size="51.7" letter-spacing="1.7">0.270</text>
<text transform="translate(1281 2680.5) rotate(-90)" x="-4.11" y="0" font-size="64.3" textLength="735.03" lengthAdjust="spacingAndGlyphs">Number of anti-glaucoma</text>
<text transform="translate(1357.5 2488.2) rotate(-90)" x="-3.97" y="0" font-size="64.3" textLength="356.28" lengthAdjust="spacingAndGlyphs">medications</text>
<text x="1579.33" y="2772.8" font-size="63.8" textLength="326.87" lengthAdjust="spacingAndGlyphs">PXG cases</text>
<rect x="748.5" y="253.6" width="46.1" height="45.6" fill="#f4f4f4" stroke="#000" stroke-width="3.6"/>
<text x="820.35" y="291.4" font-size="42.19">A</text>
<text x="849" y="291.4" font-size="42.19" font-weight="normal">/</text>
<text x="861.05" y="291.4" font-size="42.19">A</text>
<rect x="751.1" y="325.9" width="45.4" height="42.7" fill="#b2b2b2" stroke="#000" stroke-width="4.2"/>
<text x="820.35" y="362.2" font-size="42.19">A</text>
<text x="849.7" y="362.2" font-size="42.19" font-weight="normal">/</text>
<text x="859.01" y="362.2" font-size="42.19">G</text>
<rect x="1933.6" y="240.5" width="46.4" height="44.9" fill="#fff" stroke="#000" stroke-width="3.4"/>
<text x="2005.81" y="273.6" font-size="42.19">G</text>
<text x="2038.6" y="273.6" font-size="42.19" font-weight="normal">/</text>
<text x="2051.01" y="273.6" font-size="42.19">G</text>
<rect x="1936.4" y="315.7" width="45.3" height="44.9" fill="#979797" stroke="#000" stroke-width="4.4"/>
<text x="2012.65" y="345.3" font-size="42.19">A</text>
<text x="2041.2" y="345.3" font-size="42.19" font-weight="normal">/</text>
<text x="2051.71" y="345.3" font-size="42.19">G</text>
<rect x="1936.4" y="383.5" width="47.4" height="45.1" fill="#000" stroke="#000" stroke-width="3"/>
<text x="2009.85" y="419.2" font-size="42.19">A</text>
<text x="2038.6" y="419.2" font-size="42.19" font-weight="normal">/</text>
<text x="2050.95" y="419.2" font-size="42.19">A</text>
</g>
</svg>
</body>
</html>
